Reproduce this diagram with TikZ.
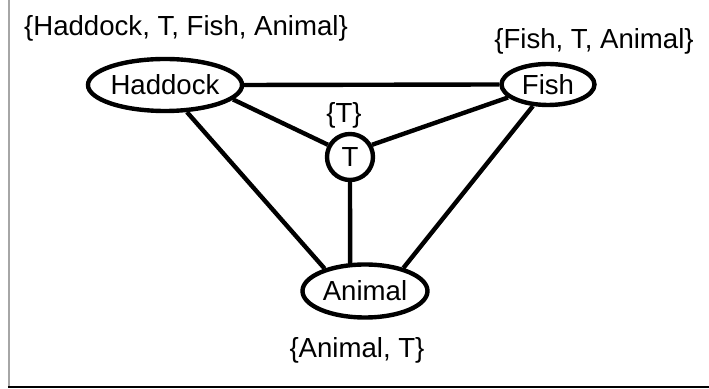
\documentclass[tikz,border=0pt]{standalone}
\usepackage{fontspec}
\setmainfont{Liberation Sans}
\usetikzlibrary{shapes.geometric}
\newcommand{\myline}{2.2pt}
\tikzset{
  vertex/.style={draw, ellipse, line width=\myline, inner sep=0pt},
  setlabel/.style={inner sep=0pt},
  link/.style={line width=\myline}
}

\begin{document}
\begin{tikzpicture}[x=0.5pt,y=-0.5pt,font=\fontsize{13.8}{16}\selectfont]
 \useasboundingbox (0,0) rectangle (709,389);
 % frame of the cut-out
 \draw[line width=1pt, gray!70] (8.5,0) -- (8.5,387);
 \draw[line width=1pt] (8,387) -- (709,387);

 \node[vertex, minimum width=73pt, minimum height=26pt] (haddock) at (165,85) {Haddock};
 \node[vertex, minimum width=46.5pt, minimum height=20.5pt] (fish) at (548,84.5) {Fish};
 \node[vertex, circle, minimum size=23pt] (t) at (350,157) {T};
 \node[vertex, minimum width=62.5pt, minimum height=26.5pt] (animal) at (365,291) {Animal};

 \node[setlabel] (haddockset) at (186,28) {\{Haddock, T, Fish, Animal\}};
 \node[setlabel] (fishset) at (594,41) {\{Fish, T, Animal\}};
 \node[setlabel] (tset) at (344,115) {\{T\}};
 \node[setlabel] (animalset) at (357,350) {\{Animal, T\}};

 \draw[link] (haddock.east) -- (fish.west);
 \draw[link] (haddock.-12) -- (t.151);
 \draw[link] (fish.198) -- (t.29);
 \draw[link] (haddock.-51) -- (animal.151);
 \draw[link] (fish.235) -- (animal.31);
 \draw[link] (t.south) -- (animal.118);
\end{tikzpicture}
\end{document}
